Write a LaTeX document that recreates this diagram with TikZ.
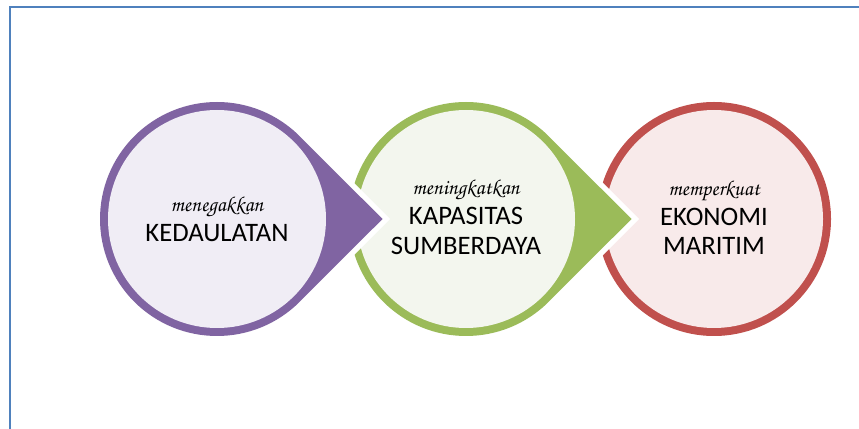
\documentclass[tikz,border=0pt]{standalone}
\usepackage{fontspec}
\setmainfont{Carlito}
\newfontfamily\handfont{texgyrechorus-mediumitalic.otf}
\usetikzlibrary{positioning}

\definecolor{frame-blue}{HTML}{4F81BD}
\definecolor{purple-line}{HTML}{8064A2}
\definecolor{purple-fill}{HTML}{F0EDF5}
\definecolor{green-line}{HTML}{9BBB59}
\definecolor{green-fill}{HTML}{F3F6EE}
\definecolor{red-line}{HTML}{C0504D}
\definecolor{red-fill}{HTML}{F8EAEA}

\begin{document}
\begin{tikzpicture}[
x=0.75pt, y=0.75pt,
frame/.style={draw=frame-blue, line width=1.5pt},
gap/.style={draw=white, line width=8pt, line join=miter},
label-small/.style={font=\handfont\fontsize{16}{18}\selectfont, anchor=base, inner sep=0pt},
label-big/.style={font=\fontsize{20}{22.5}\selectfont, anchor=base, inner sep=0pt}
]
\useasboundingbox (0,0) rectangle (859,428);

% frame, only top and left show
\draw [frame] (10,-20) -- (10,420.5) -- (880,420.5);

\coordinate (c-purple) at (217,209);
\coordinate (c-green) at (466,209);
\coordinate (c-red) at (714,209);

% red circle first, the others lie over it
\fill [red-line] (c-red) circle (117);
\fill [red-fill] (c-red) circle (109);

\draw [gap] ([shift={(165.5,0)}]c-green) -- ([shift={(45:117)}]c-green)
    arc [start angle=45, end angle=315, radius=117] -- cycle;
\fill [green-line] ([shift={(165.5,0)}]c-green) -- ([shift={(45:117)}]c-green)
    arc [start angle=45, end angle=315, radius=117] -- cycle;
\fill [green-fill] (c-green) circle (109);

\draw [gap] ([shift={(165.5,0)}]c-purple) -- ([shift={(45:117)}]c-purple)
    arc [start angle=45, end angle=315, radius=117] -- cycle;
\fill [purple-line] ([shift={(165.5,0)}]c-purple) -- ([shift={(45:117)}]c-purple)
    arc [start angle=45, end angle=315, radius=117] -- cycle;
\fill [purple-fill] (c-purple) circle (109);

% texts
\node [label-small] (menegakkan) at (217,216) {menegakkan};
\node [label-big] (kedaulatan) at (217,186) {KEDAULATAN};

\node [label-small] (meningkatkan) at (466,233) {meningkatkan};
\node [label-big] (kapasitas) at (466,203) {KAPASITAS};
\node [label-big] (sumberdaya) at (466,173) {SUMBERDAYA};

\node [label-small] (memperkuat) at (714,232) {memperkuat};
\node [label-big] (ekonomi) at (714,202) {EKONOMI};
\node [label-big] (maritim) at (714,173) {MARITIM};
\end{tikzpicture}
\end{document}
